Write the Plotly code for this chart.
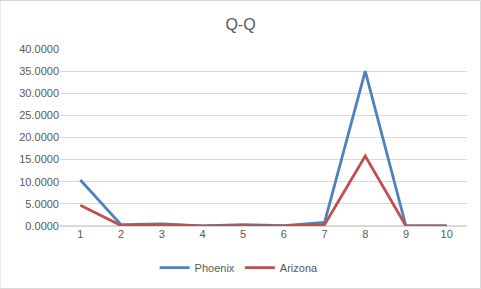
import plotly.graph_objects as go

categories = ["1", "2", "3", "4", "5", "6", "7", "8", "9", "10"]
phoenix = [10.4, 0.3, 0.5, 0.05, 0.3, 0.1, 0.8, 35.0, 0.0, 0.0]
arizona = [4.7, 0.1, 0.3, 0.05, 0.1, 0.05, 0.3, 15.8, 0.0, 0.0]
y_ticks = [0, 5, 10, 15, 20, 25, 30, 35, 40]

fig = go.Figure()
fig.add_trace(go.Scatter(x=categories, y=phoenix, mode="lines", name="Phoenix",
                         line=dict(color="#4F81BD", width=2.8)))
fig.add_trace(go.Scatter(x=categories, y=arizona, mode="lines", name="Arizona",
                         line=dict(color="#C0504D", width=2.8)))

fig.update_layout(
    width=481, height=289,
    margin=dict(l=60, r=14, t=49, b=63, autoexpand=False),
    paper_bgcolor="white", plot_bgcolor="white",
    title=dict(text="Q-Q", x=0.5, xanchor="center", y=0.915, yanchor="middle",
               font=dict(family="Liberation Sans, Arial", size=16, color="#595959")),
    font=dict(family="Liberation Sans, Arial", size=11, color="#595959"),
    xaxis=dict(type="category", range=[-0.5, 9.5], showgrid=False, zeroline=False,
               showline=False, ticks="", tickfont=dict(size=11, color="#595959")),
    yaxis=dict(range=[0, 40], tickvals=y_ticks, tickformat=".4f", showgrid=True,
               gridcolor="#D9D9D9", gridwidth=1, zeroline=True, zerolinecolor="#D9D9D9",
               showline=False, ticks="", ticklen=0, tickfont=dict(size=11, color="#595959")),
    legend=dict(orientation="h", x=0.44, xanchor="center", y=-0.235, yanchor="middle",
                itemwidth=30, font=dict(size=11, color="#595959")),
    shapes=[dict(type="rect", xref="paper", yref="paper", x0=-60/407, x1=1+13.5/407,
                 y0=-62.5/177, y1=1+48.5/177, line=dict(color="#D9D9D9", width=1))],
)

fig.write_html("out.html")
